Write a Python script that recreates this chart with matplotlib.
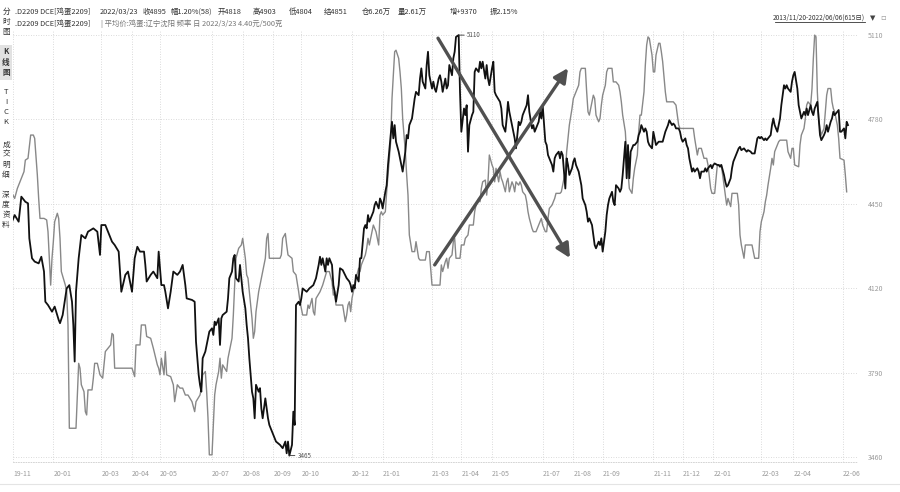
import matplotlib.pyplot as plt

plt.rcParams['font.family'] = ['Noto Sans CJK SC', 'DejaVu Sans']

# futures close (鸡蛋2209), x = trading-day index
black_day = [0, 2, 5, 7, 10, 12, 13, 15, 17, 20, 22, 24, 25, 27, 30, 32, 35, 36, 38, 41,
             43, 45, 46, 47, 48, 50, 52, 55, 57, 61, 64, 66, 67, 70, 72, 75, 77, 80, 81, 82,
             85, 87, 90, 92, 94, 96, 99, 100, 101, 104, 106, 109, 110, 112, 114, 115, 117, 119, 121, 124,
             126, 128, 130, 131, 135, 137, 138, 140, 141, 142, 143, 145, 146, 147, 148, 150, 151, 152, 153, 155,
             156, 157, 158, 161, 162, 163, 165, 166, 167, 168, 170, 171, 172, 173, 175, 176, 177, 178, 180, 181,
             182, 183, 185, 186, 187, 188, 190, 191, 192, 193, 196, 198, 201, 203, 205, 206, 207, 208, 210, 211,
             212, 213, 215, 216, 217, 218, 221, 223, 226, 228, 230, 231, 232, 233, 235, 236, 237, 238, 240, 241,
             242, 243, 245, 246, 248, 251, 253,
             254, 255, 256, 257, 258, 260, 261, 262, 264, 265, 266, 267, 268, 270, 271, 272, 273, 275, 276, 277,
             278, 280, 281, 282, 284, 285, 286, 287, 288, 290, 291, 292, 293, 295, 296, 297, 298, 300, 301, 302,
             303, 305, 306, 307, 308, 310, 311, 312, 313, 315, 316, 317, 318, 320, 321, 322, 323, 325, 326, 327,
             328, 330, 331, 332, 333, 335, 336, 337, 339, 340, 341, 342, 343, 345, 346, 347, 348, 350, 351, 352,
             353, 355, 356, 357, 358, 360, 361, 362, 363, 366, 367, 368, 370, 371, 372, 373, 375, 376, 377, 378,
             380,
             381, 382, 383, 385, 386, 387, 388, 390, 391, 392, 393, 395, 396, 397, 398, 400, 401, 402, 403, 405,
             406, 407, 408, 410, 411, 412, 413, 415, 416, 417, 418, 420, 421, 422, 423, 425, 426, 427, 428, 430,
             431, 432, 433, 435, 436, 437, 438, 440, 441, 442, 443, 445, 446, 447, 448, 450, 451, 452, 453, 455,
             456, 457, 458, 460, 461, 462, 463, 464, 465, 466, 467, 469, 470, 471, 472, 474, 475, 476, 477, 478,
             480, 481, 482, 483, 485, 486, 488, 490, 491, 492, 493, 495, 496, 497, 498, 500, 501, 502, 503, 505,
             506, 507, 508,
             509, 510, 511, 512, 514, 515, 516, 517, 519, 520, 521, 522, 524, 525, 526, 527, 529, 530, 531, 532,
             534, 535, 536, 537, 539, 540, 541, 542, 544, 545, 546, 547, 549, 550, 551, 552, 554, 555, 556, 557,
             559, 560, 561, 562, 564, 565, 566, 567, 569, 570, 571, 572, 574, 575, 576, 577, 579, 580, 581, 582,
             584, 585, 586, 587, 589, 590, 591, 592, 594, 595, 596, 597, 599, 600, 601, 602, 604, 605, 606, 607,
             609, 610, 611, 612, 614, 615, 616, 617, 619, 620, 621, 622, 624, 625, 626, 627]
black_val = [4380, 4406, 4380, 4478, 4458, 4452, 4315, 4237, 4224, 4217, 4243, 4185, 4067, 4054, 4028, 4048, 3996, 3983, 4015, 4119,
             4132, 4067, 3976, 3833, 4106, 4237, 4328, 4315, 4341, 4354, 4341, 4250, 4367, 4367, 4341, 4302, 4289, 4263, 4185, 4106,
             4172, 4185, 4106, 4237, 4282, 4263, 4263, 4211, 4146, 4172, 4185, 4159, 4263, 4132, 4132, 4106, 4041, 4106, 4185, 4172,
             4185, 4211, 4132, 4080, 4074, 4067, 3911, 3781, 3742, 3715, 3846, 3872, 3898, 3924, 3950, 3963, 3937, 3989, 3976, 4002,
             3898, 4002, 4015, 4028, 4080, 4159, 4185, 4237, 4250, 4159, 4146, 4211, 4159, 4106, 4041, 3976, 3924, 3846, 3715, 3689,
             3611, 3742, 3715, 3729, 3650, 3611, 3689, 3650, 3611, 3585, 3546, 3520, 3507, 3494, 3520, 3474, 3520, 3465, 3507, 3637,
             3585, 4054, 4067, 4054, 4080, 4119, 4106, 4119, 4132, 4159, 4211, 4243, 4211, 4237, 4185, 4237, 4211, 4237, 4211, 4132,
             4106, 4067, 4132, 4198, 4191, 4159, 4146,
             4132, 4106, 4132, 4119, 4172, 4146, 4237, 4237, 4354, 4367, 4354, 4406, 4380, 4406, 4419, 4445, 4458, 4432, 4471, 4458,
             4432, 4497, 4523, 4602, 4719, 4771, 4706, 4758, 4693, 4654, 4628, 4602, 4576, 4654, 4719, 4706, 4758, 4784, 4823, 4862,
             4888, 4875, 4940, 4980, 4928, 4901, 4993, 5045, 4953, 4901, 4928, 4901, 4888, 4940, 4953, 4928, 4888, 4940, 4901, 4914,
             4993, 4953, 5019, 5045, 5103, 5110, 4888, 4732, 4823, 4797, 4836, 4654, 4758, 4797, 4810, 4966, 4980, 4966, 5006, 4980,
             5006, 4940, 4993, 4940, 4914, 4980, 5006, 4888, 4875, 4849, 4823, 4758, 4732, 4784, 4849, 4810, 4758, 4732, 4706, 4667,
             4771,
             4758, 4771, 4797, 4823, 4836, 4875, 4810, 4745, 4758, 4732, 4745, 4771, 4810, 4784, 4836, 4693, 4680, 4641, 4628, 4602,
             4576, 4628, 4641, 4654, 4628, 4654, 4641, 4510, 4628, 4602, 4563, 4589, 4615, 4628, 4602, 4576, 4550, 4523, 4471, 4445,
             4419, 4380, 4393, 4367, 4328, 4289, 4276, 4302, 4289, 4315, 4263, 4341, 4406, 4445, 4471, 4497, 4458, 4445, 4523, 4510,
             4497, 4510, 4563, 4693, 4550, 4680, 4550, 4654, 4667, 4680, 4680, 4693, 4719, 4732, 4758, 4732, 4745, 4732, 4693, 4680,
             4667, 4732, 4706, 4680, 4693, 4693, 4693, 4732, 4745, 4758, 4777, 4758, 4764, 4758, 4745, 4745, 4732, 4706, 4693, 4706,
             4680, 4667, 4628,
             4602, 4576, 4589, 4576, 4589, 4576, 4550, 4576, 4576, 4589, 4576, 4589, 4602, 4589, 4602, 4608, 4602, 4602, 4595, 4602,
             4563, 4536, 4517, 4523, 4550, 4589, 4615, 4628, 4654, 4667, 4673, 4660, 4667, 4660, 4654, 4660, 4654, 4647, 4647, 4647,
             4706, 4712, 4706, 4712, 4699, 4706, 4699, 4706, 4719, 4758, 4784, 4758, 4732, 4758, 4784, 4836, 4914, 4901, 4914, 4901,
             4888, 4928, 4953, 4966, 4901, 4836, 4810, 4784, 4810, 4797, 4823, 4797, 4836, 4810, 4797, 4823, 4849, 4784, 4719, 4699,
             4719, 4732, 4758, 4732, 4771, 4784, 4810, 4797, 4810, 4817, 4732, 4732, 4745, 4706, 4771, 4758]

# spot price 辽宁沈阳 (drawn on the same normalised scale)
gray_day = [0, 2, 4, 6, 9, 10, 12, 14, 16, 17, 19, 20, 21, 24, 26, 27, 29, 30, 31, 32,
            34, 35, 36, 37, 40, 41, 42, 43, 46, 48, 50, 51, 52, 54, 55, 56, 57, 60, 61, 62,
            64, 66, 68, 70, 72, 74, 75, 76, 77, 84, 90, 92, 93, 96, 97, 100, 101, 104, 106, 109,
            110, 111, 112, 114, 115, 116, 119, 121, 122, 124,
            126, 128, 130, 132, 135, 137, 138, 141, 142, 143, 145, 146, 147, 148, 150, 151, 152, 153, 155, 156,
            157, 158, 161, 162, 163, 165, 166, 167, 168, 170, 172, 173, 175, 176, 177, 178, 180, 181, 182, 183,
            185, 186, 188, 190, 191, 192, 193, 196, 201, 202, 203, 205, 206, 207, 210, 211, 213, 215, 216, 218,
            221, 222, 223, 225, 226, 227, 228, 231, 233, 236, 238, 240, 241, 242, 243, 246, 248, 250, 251, 252,
            253,
            254, 255, 256, 257, 258, 260, 261, 262, 264, 265, 266, 267, 268, 270, 271, 272, 273, 275, 276, 277,
            278, 280, 281, 282, 284, 285, 286, 287, 288, 290, 291, 292, 293, 295, 296, 297, 298, 300, 301, 302,
            303, 305, 306, 310, 311, 313, 315, 318, 321, 322, 323, 325, 326, 327, 328, 330, 331, 332, 333, 336,
            337, 339, 340, 342, 343, 346, 347, 348, 350, 351, 352, 353, 355, 356, 357, 358, 360, 361, 362, 363,
            365, 366, 367, 368, 370, 371, 372, 373, 375, 376, 377, 378, 380,
            381, 382, 383, 385, 386, 387, 388, 390, 391, 393, 395, 396, 397, 398, 400, 401, 402, 403, 405, 407,
            408, 411, 412, 413, 415, 416, 417, 418, 420, 421, 422, 423, 425, 426, 427, 430, 431, 432, 433, 435,
            436, 437, 438, 440, 441, 442, 443, 445, 446, 447, 450, 451, 453, 455, 456, 457, 458, 460, 461, 462,
            463, 465, 466, 467, 469, 470, 471, 472, 474, 475, 476, 477, 478, 480, 481, 482, 483, 485, 486, 487,
            488, 490, 491, 496, 498, 500, 501, 508,
            509, 511, 512, 514, 515, 517, 519, 521, 522, 524, 525, 527, 529, 531, 532, 534, 535, 536, 537, 539,
            540, 544, 545, 546, 547, 549, 550, 555, 556, 557, 560, 561, 562, 564, 565, 566, 567, 569, 570, 571,
            572, 574, 575, 576, 581, 582, 584, 585, 586, 587, 590, 591, 592, 594, 595, 596, 597, 599, 600, 601,
            602, 603, 604, 605, 606, 607, 609, 610, 611, 612, 614, 615, 616, 617, 619, 620, 621, 624, 625, 626]
gray_val = [4491, 4471, 4510, 4536, 4576, 4621, 4628, 4719, 4719, 4706, 4563, 4471, 4393, 4393, 4387, 4341, 4132, 4237, 4302, 4380,
            4413, 4393, 4315, 4185, 4132, 4106, 3976, 3572, 3572, 3572, 3826, 3807, 3742, 3715, 3637, 3624, 3722, 3722, 3768, 3826,
            3826, 3781, 3768, 3872, 3885, 3898, 3943, 3937, 3807, 3807, 3807, 3774, 3898, 3898, 3976, 3976, 3931, 3924, 3885, 3820,
            3807, 3781, 3846, 3781, 3872, 3781, 3774, 3742, 3676, 3742,
            3729, 3729, 3702, 3702, 3676, 3637, 3676, 3702, 3729, 3781, 3794, 3715, 3611, 3468, 3468, 3585, 3702, 3742, 3794, 3846,
            3768, 3820, 3794, 3846, 3872, 3924, 4015, 4132, 4237, 4276, 4289, 4315, 4237, 4172, 4159, 4106, 4002, 3924, 3950, 4028,
            4106, 4132, 4185, 4237, 4315, 4334, 4237, 4237, 4237, 4250, 4315, 4334, 4289, 4250, 4237, 4185, 4172, 4106, 4067, 4015,
            4015, 4054, 4041, 4080, 4028, 4015, 4080, 4106, 4132, 4185, 4185, 4146, 4093, 4106, 4054, 4054, 4054, 3989, 4015, 4054,
            4067,
            4028, 4080, 4106, 4132, 4159, 4198, 4185, 4211, 4237, 4250, 4276, 4315, 4289, 4341, 4367, 4354, 4341, 4289, 4406, 4419,
            4406, 4419, 4497, 4563, 4693, 4862, 4953, 5045, 5051, 5019, 4966, 4901, 4784, 4654, 4563, 4484, 4328, 4263, 4263, 4263,
            4302, 4237, 4230, 4230, 4263, 4263, 4132, 4132, 4132, 4211, 4185, 4224, 4237, 4198, 4237, 4250, 4302, 4315, 4237, 4237,
            4289, 4289, 4315, 4328, 4367, 4367, 4419, 4445, 4471, 4458, 4510, 4536, 4543, 4484, 4536, 4641, 4602, 4589, 4536, 4589,
            4536, 4576, 4550, 4536, 4497, 4536, 4550, 4497, 4536, 4523, 4497, 4536, 4523,
            4536, 4523, 4497, 4484, 4458, 4419, 4393, 4354, 4341, 4341, 4367, 4380, 4393, 4367, 4341, 4341, 4393, 4432, 4445, 4471,
            4491, 4491, 4497, 4523, 4576, 4654, 4706, 4758, 4823, 4862, 4875, 4888, 4914, 4966, 4980, 4980, 4888, 4810, 4797, 4849,
            4875, 4862, 4797, 4771, 4784, 4836, 4875, 4914, 4966, 4980, 4980, 4927, 4927, 4914, 4888, 4849, 4797, 4732, 4641, 4576,
            4510, 4491, 4550, 4589, 4641, 4732, 4797, 4797, 4888, 4993, 5071, 5103, 5097, 5032, 4966, 4966, 5032, 5078, 5078, 5045,
            5006, 4888, 4849, 4849, 4836, 4758, 4745, 4745,
            4745, 4745, 4706, 4641, 4667, 4667, 4628, 4628, 4602, 4510, 4491, 4491, 4602, 4602, 4602, 4523, 4484, 4445, 4471, 4439,
            4491, 4491, 4445, 4328, 4289, 4237, 4289, 4289, 4263, 4237, 4237, 4341, 4380, 4419, 4458, 4484, 4523, 4589, 4628, 4602,
            4654, 4680, 4693, 4699, 4699, 4654, 4628, 4667, 4667, 4602, 4595, 4680, 4719, 4745, 4784, 4836, 4849, 4836, 4901, 5019,
            5110, 5103, 4888, 4784, 4745, 4719, 4745, 4810, 4875, 4901, 4901, 4849, 4823, 4810, 4758, 4706, 4628, 4621, 4563, 4497]

y_ticks = [5110, 4780, 4450, 4120, 3790, 3460]
tick_days = [1, 31, 67, 90, 111, 150, 173, 196, 217, 255, 278, 315, 337, 360, 398, 421, 443, 481, 503, 526, 562, 586, 623]
tick_labels = ['19-11', '20-01', '20-03', '20-04', '20-05', '20-07', '20-08', '20-09', '20-10', '20-12', '21-01',
               '21-03', '21-04', '21-05', '21-07', '21-08', '21-09', '21-11', '21-12', '22-01', '22-03', '22-04', '22-06']

# hand-drawn trend arrows (day, price)
arrow_down = [(319.5, 5098), (418.5, 4238)]
arrow_up = [(317, 4211), (417, 4981)]

quote_items = ['.D2209 DCE[鸡蛋2209]', '2022/03/23', '收4895', '幅1.20%(58)', '开4818', '高4903',
               '低4804', '结4851', '仓6.26万', '量2.61万', '增+9370', '振2.15%']
quote_x = [15, 100, 143, 171, 218, 253, 289, 324, 362, 398, 450, 490]
side_menu = ['分时图', 'K线图', 'TICK', '成交明细', '深度资料']
side_y = [12, 52, 92, 145, 195]

W, H = 900, 492


def fx(px):
    return px / W


def fy(py):
    return 1 - py / H


fig = plt.figure(figsize=(W / 100, H / 100), dpi=100)
fig.patch.set_facecolor('white')
ax = fig.add_axes([fx(13), fy(462), (858 - 13) / W, 432 / H])

ax.plot(gray_day, gray_val, color='#888888', lw=1.0)
ax.plot(black_day, black_val, color='#111111', lw=1.3)

ax.set_xlim(0.75, 634.5)
ax.set_ylim(3440, 5130)
ax.set_yticks(y_ticks)
ax.yaxis.tick_right()
ax.tick_params(axis='y', length=0, pad=7, labelsize=5, labelcolor='#9a9a9a')
ax.set_xticks(tick_days)
ax.set_xticklabels(tick_labels, ha='left')
ax.tick_params(axis='x', length=0, pad=6, labelsize=5, labelcolor='#9a9a9a')
for s in ax.spines.values():
    s.set_visible(False)
ax.spines['bottom'].set_visible(True)
ax.spines['bottom'].set_color('#cccccc')
ax.spines['bottom'].set_linestyle((0, (1, 2)))
ax.spines['bottom'].set_linewidth(0.6)
ax.grid(True, ls=(0, (1, 2)), color='#cfcfcf', lw=0.6)

# trend arrows
for (x0, y0), (x1, y1) in [arrow_down, arrow_up]:
    ax.annotate('', xy=(x1, y1), xytext=(x0, y0),
                arrowprops=dict(arrowstyle='-|>,head_length=0.7,head_width=0.35',
                                color='#505050', lw=2.4, mutation_scale=12, shrinkA=0, shrinkB=0))

# max / min labels
i_max = black_val.index(max(black_val))
i_min = black_val.index(min(black_val))
for i in (i_max, i_min):
    ax.annotate(str(black_val[i]), xy=(black_day[i], black_val[i]), xytext=(6, 0),
                textcoords='offset points', fontsize=4.5, color='#555555', va='center',
                arrowprops=dict(arrowstyle='-', color='#333333', lw=0.6, shrinkA=0, shrinkB=0))

# header lines
for txt, x in zip(quote_items, quote_x):
    fig.text(fx(x), fy(12), txt, fontsize=5.3, color='#333333', va='center')
fig.text(fx(15), fy(24), '.D2209 DCE[鸡蛋2209]', fontsize=5.3, color='#333333', va='center')
fig.text(fx(101), fy(24), '| 平均价:鸡蛋:辽宁沈阳 频率 日 2022/3/23 4.40元/500克',
         fontsize=5.3, color='#777777', va='center')

# period selector top right
fig.text(fx(865), fy(18), '2013/11/20-2022/06/06(615日)', fontsize=4.7, color='#333333',
         ha='right', va='center')
fig.add_artist(plt.Line2D([fx(775), fx(865)], [fy(22), fy(22)], color='#333333', lw=0.6))
fig.text(fx(873), fy(18), '▼', fontsize=5, color='#444444', ha='center', va='center',
         family=['DejaVu Sans'])
fig.text(fx(883), fy(18), '▫', fontsize=6, color='#999999', ha='center', va='center',
         family=['DejaVu Sans'])

# side menu
fig.add_artist(plt.Rectangle((0, fy(80)), fx(12), (80 - 45) / H, color='#e2e2e2', lw=0))
for label, y0 in zip(side_menu, side_y):
    for k, ch in enumerate(label):
        fig.text(fx(6), fy(y0 + k * 10), ch, fontsize=5.5, color='#333333', ha='center', va='center',
                 fontweight='bold' if label == 'K线图' else 'normal')

# bottom separator
fig.add_artist(plt.Line2D([0, 1], [fy(484), fy(484)], color='#e4e4e4', lw=0.8))

fig.savefig('out.png', dpi=100)
